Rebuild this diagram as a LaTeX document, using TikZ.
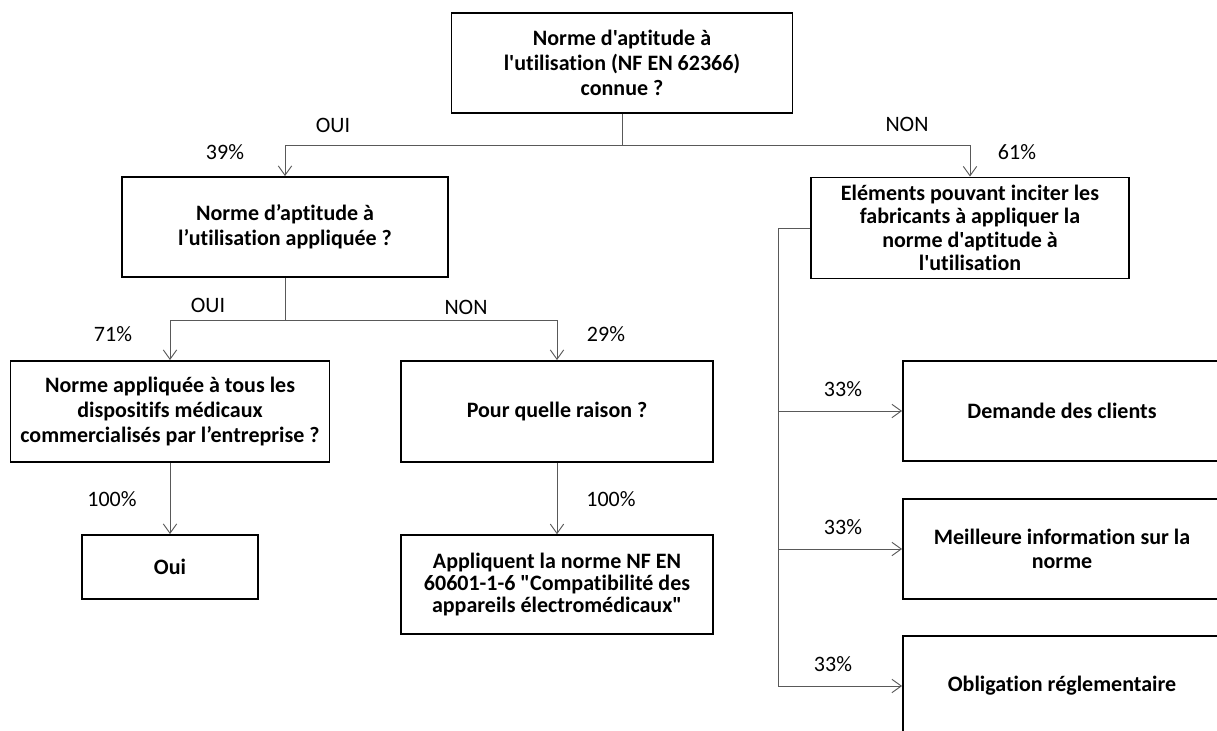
\documentclass[tikz,border=0pt]{standalone}
\usepackage{fontspec}
\setmainfont{Carlito}[Ligatures={TeXOff,NoCommon}]
\usetikzlibrary{arrows.meta}

\begin{document}
\begin{tikzpicture}[
            x=0.75pt, y=-0.75pt,
            every node/.style={font=\fontsize{16.5}{19}\selectfont},
            box/.style={
                rectangle,
                draw=black,
                line width=1.4pt,
                align=center,
                inner sep=1pt,
                font=\fontsize{16.5}{18.5}\selectfont\bfseries
            },
            arrow/.style={
                -{Straight Barb[length=7pt,width=10pt]},
                line width=0.7pt,
                draw=black!65
            },
            link/.style={
                line width=0.7pt,
                draw=black!65
            }
        ]
            \useasboundingbox (0,0) rectangle (1217,731);
            \clip (0,0) rectangle (1217,731);

            % Question boxes
            \node[box, minimum width=255.75pt, minimum height=75pt] (known) at (622,63)
                {Norme d'aptitude à\\ l'utilisation (NF EN 62366)\\ connue ?};
            \node[box, minimum width=244.5pt, minimum height=75pt] (applied) at (285,227)
                {Norme d’aptitude à\\ l’utilisation appliquée ?};
            \node[box, minimum width=239.25pt, minimum height=75.75pt] (alldevices) at (170,411.5)
                {Norme appliquée à tous les\\ dispositifs médicaux\\ commercialisés par l’entreprise ?};
            \node[box, minimum width=234pt, minimum height=75.75pt] (reason) at (557,411.5)
                {Pour quelle raison ?};
            \node[box, minimum width=238.5pt, minimum height=75.75pt, inner sep=0pt,
                  font=\fontsize{16.5}{17.5}\selectfont\bfseries] (incentives) at (970,228)
                {Eléments pouvant inciter les\\ fabricants à appliquer la\\ norme d'aptitude à\\ l'utilisation};

            % Answer boxes
            \node[box, minimum width=132pt, minimum height=48pt] (yes) at (170,567) {Oui};
            \node[box, minimum width=234pt, minimum height=74pt,
                  font=\fontsize{16.5}{16.5}\selectfont\bfseries] (otherstd) at (557,584.5)
                {Appliquent la norme NF EN\\ 60601-1-6 "Compatibilité des\\ appareils électromédicaux"};
            \node[box, minimum width=238.5pt, minimum height=75pt] (clients) at (1062,411)
                {Demande des clients};
            \node[box, minimum width=238.5pt, minimum height=75pt] (info) at (1062,549)
                {Meilleure information sur la\\ norme};
            \node[box, minimum width=238.5pt, minimum height=75pt] (rules) at (1062,686)
                {Obligation réglementaire};

            % Branch points
            \coordinate (split1) at (622,145);
            \coordinate (split2) at (285,320);
            \coordinate (spine) at (778,228);

            % Tree connections
            \draw[link] (known.south) -- (split1);
            \draw[arrow] (split1) -| (applied.north);
            \draw[arrow] (split1) -| (incentives.north);
            \draw[link] (applied.south) -- (split2);
            \draw[arrow] (split2) -| (alldevices.north);
            \draw[arrow] (split2) -| (reason.north);
            \draw[arrow] (alldevices.south) -- (yes.north);
            \draw[arrow] (reason.south) -- (otherstd.north);

            % Incentive list
            \draw[link] (incentives.west) -- (spine);
            \draw[arrow] (spine) |- (clients.west);
            \draw[arrow] (spine) |- (info.west);
            \draw[arrow] (spine) |- (rules.west);

            % Answers and shares
            \node (oui1) at (333,125) {OUI};
            \node (p39) at (225,152) {39\%};
            \node (non1) at (907,124) {NON};
            \node (p61) at (1017,152) {61\%};
            \node (oui2) at (208,305) {OUI};
            \node (p71) at (113,334) {71\%};
            \node (non2) at (466,307) {NON};
            \node (p29) at (606,334) {29\%};
            \node (p100a) at (112,499) {100\%};
            \node (p100b) at (611,499) {100\%};
            \node (p33a) at (843,389) {33\%};
            \node (p33b) at (843,527) {33\%};
            \node (p33c) at (833,664) {33\%};
        \end{tikzpicture}
\end{document}
